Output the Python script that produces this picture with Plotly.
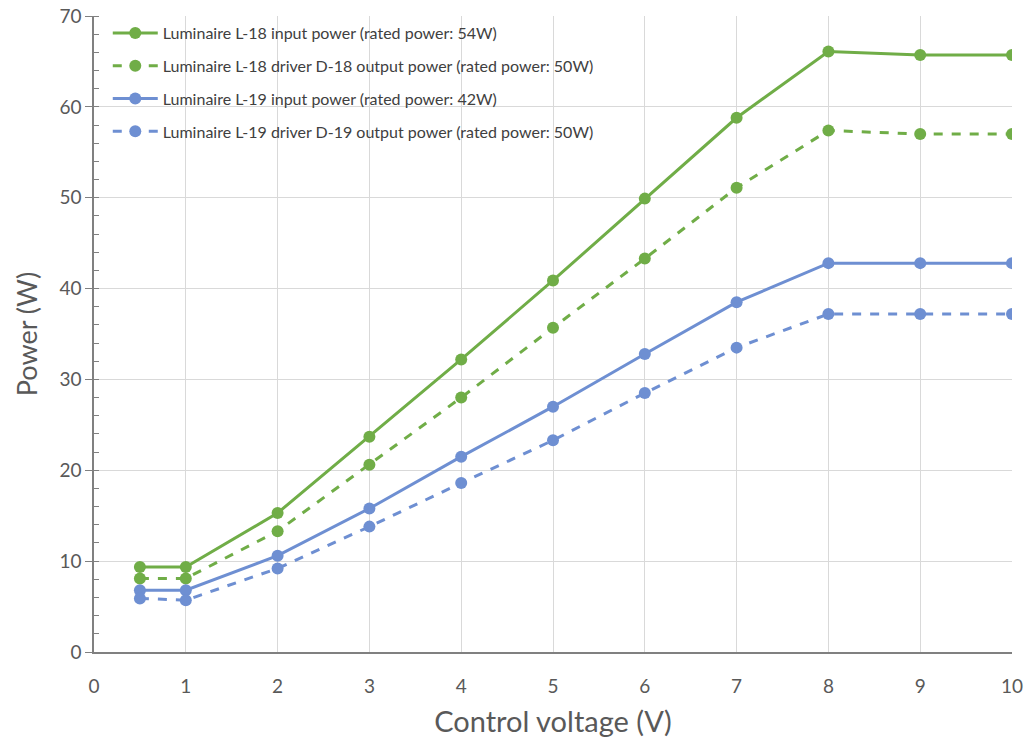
import plotly.graph_objects as go

voltage = [0.5, 1, 2, 3, 4, 5, 6, 7, 8, 9, 10]
l18_input = [9.35, 9.35, 15.3, 23.7, 32.2, 40.9, 49.9, 58.8, 66.1, 65.7, 65.7]
l18_driver = [8.1, 8.1, 13.3, 20.6, 28.0, 35.7, 43.3, 51.1, 57.4, 57.0, 57.0]
l19_input = [6.8, 6.8, 10.6, 15.8, 21.5, 27.0, 32.8, 38.5, 42.8, 42.8, 42.8]
l19_driver = [5.9, 5.7, 9.2, 13.8, 18.6, 23.3, 28.5, 33.5, 37.2, 37.2, 37.2]

names = [
    "Luminaire L-18 input power (rated power: 54W)",
    "Luminaire L-18 driver D-18 output power (rated power: 50W)",
    "Luminaire L-19 input power (rated power: 42W)",
    "Luminaire L-19 driver D-19 output power (rated power: 50W)",
]
GREEN = "#70AD47"
BLUE = "#6E8FD2"
series = [
    (l18_input, GREEN, "solid"),
    (l18_driver, GREEN, "dash"),
    (l19_input, BLUE, "solid"),
    (l19_driver, BLUE, "dash"),
]

fig = go.Figure()
for i, ((vals, col, dash), nm) in enumerate(zip(series, names)):
    fig.add_trace(go.Scatter(
        x=voltage, y=vals, name=nm, mode="lines+markers",
        line=dict(color=col, width=3, dash=dash),
        marker=dict(color=col, size=12),
        legendgroup=str(i),
    ))

font_family = "Lato, 'Open Sans', sans-serif"
fig.update_layout(
    width=1028, height=742,
    margin=dict(l=94, r=16, t=16, b=90, autoexpand=False),
    paper_bgcolor="white", plot_bgcolor="white",
    font=dict(family=font_family, color="#595959"),
    showlegend=True,
    legend=dict(
        x=0.015, y=1.0, xanchor="left", yanchor="top",
        bgcolor="rgba(0,0,0,0)",
        font=dict(size=16, color="#404040", family=font_family),
        traceorder="grouped", tracegroupgap=9,
        itemwidth=45,
    ),
)
fig.update_xaxes(
    range=[0, 10], dtick=1, tick0=0, automargin=False,
    ticklabeloverflow="allow",
    showgrid=True, gridcolor="#D9D9D9", gridwidth=1,
    showline=True, linecolor="#808080", linewidth=1.5,
    zeroline=False, ticks="", ticklabelstandoff=16,
    tickfont=dict(size=19, color="#595959"),
    title=dict(text="Control voltage (V)", font=dict(size=29, color="#595959"), standoff=16),
)
fig.update_yaxes(
    range=[0, 70], dtick=10, tick0=0, automargin=False,
    ticklabeloverflow="allow",
    showgrid=True, gridcolor="#D9D9D9", gridwidth=1,
    showline=True, linecolor="#808080", linewidth=1.5,
    zeroline=False, ticks="outside", ticklen=7, tickcolor="#808080",
    minor=dict(dtick=2, ticks="inside", ticklen=5, tickcolor="#808080", showgrid=False),
    tickfont=dict(size=19, color="#595959"),
    title=dict(text="Power (W)", font=dict(size=27, color="#595959"), standoff=14),
)

fig.write_html(
    "out.html",
    config={"displayModeBar": False},
    post_script="document.body.style.margin='0';document.body.style.overflow='hidden';",
)
